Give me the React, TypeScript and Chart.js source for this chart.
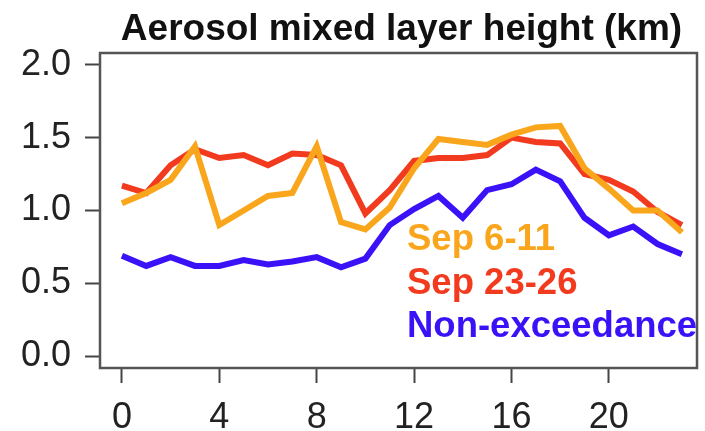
import { useEffect, useRef } from 'react';
import { Chart, registerables } from 'chart.js';
import type { Plugin } from 'chart.js';

Chart.register(...registerables);

// Hora del día (0-23)
const hours = [0, 1, 2, 3, 4, 5, 6, 7, 8, 9, 10, 11, 12, 13, 14, 15, 16, 17, 18, 19, 20, 21, 22, 23];

// Altura de la capa de mezcla (km)
const sep6to11 = [1.05, 1.12, 1.21, 1.44, 0.90, 1.00, 1.10, 1.12, 1.44, 0.92, 0.87, 1.02, 1.29, 1.49, 1.47, 1.45, 1.52, 1.57, 1.58, 1.29, 1.15, 1.00, 1.00, 0.85];
const sep23to26 = [1.17, 1.12, 1.31, 1.42, 1.36, 1.38, 1.31, 1.39, 1.38, 1.31, 0.98, 1.14, 1.34, 1.36, 1.36, 1.38, 1.50, 1.47, 1.46, 1.25, 1.21, 1.13, 0.99, 0.90];
const nonExceedance = [0.69, 0.62, 0.68, 0.62, 0.62, 0.66, 0.63, 0.65, 0.68, 0.61, 0.67, 0.90, 1.01, 1.10, 0.95, 1.14, 1.18, 1.28, 1.20, 0.95, 0.83, 0.89, 0.77, 0.70];

const seriesLabels = ['Sep 6-11', 'Sep 23-26', 'Non-exceedance'];
const seriesColors = ['#F9A61C', '#F23A1E', '#3B12F7'];

const xTicks = [0, 4, 8, 12, 16, 20];
const yTicks = [0, 0.5, 1.0, 1.5, 2.0];

const titleText = 'Aerosol mixed layer height (km)';

const FONT = '"Liberation Sans", Arial, Helvetica, sans-serif';

// Caja alrededor del área del gráfico, título y leyenda de texto (estilo R)
const boxAndTextPlugin: Plugin<'line'> = {
  id: 'boxAndText',
  afterDraw(chart) {
    const { ctx, chartArea } = chart;
    ctx.save();
    ctx.strokeStyle = '#555';
    ctx.lineWidth = 2.5;
    ctx.strokeRect(chartArea.left, chartArea.top, chartArea.right - chartArea.left, chartArea.bottom - chartArea.top);

    // Título
    ctx.fillStyle = '#111';
    ctx.font = `bold 37px ${FONT}`;
    ctx.textAlign = 'center';
    ctx.textBaseline = 'alphabetic';
    ctx.fillText(titleText, (chartArea.left + chartArea.right) / 2 + 3, 40);

    // Leyenda
    ctx.font = `bold 36.5px ${FONT}`;
    ctx.textAlign = 'left';
    seriesLabels.forEach((label, i) => {
      ctx.fillStyle = seriesColors[i];
      ctx.fillText(label, chartArea.left + 307, 250 + i * 43.5);
    });
    ctx.restore();
  }
};

export default function App() {
  const chartRef = useRef<HTMLCanvasElement>(null);
  const chartInstance = useRef<Chart | null>(null);

  useEffect(() => {
    document.body.style.margin = '0';
    if (!chartRef.current) return;
    const ctx = chartRef.current.getContext('2d');
    if (!ctx) return;

    if (chartInstance.current) {
      chartInstance.current.destroy();
    }

    const allSeries = [sep6to11, sep23to26, nonExceedance];

    chartInstance.current = new Chart(ctx, {
      type: 'line',
      data: {
        datasets: allSeries.map((values, i) => ({
          label: seriesLabels[i],
          data: hours.map((h, j) => ({ x: h, y: values[j] })),
          borderColor: seriesColors[i],
          backgroundColor: seriesColors[i],
          borderWidth: 6,
          pointRadius: 0,
          tension: 0,
          fill: false
        }))
      },
      options: {
        animation: false,
        responsive: false,
        maintainAspectRatio: false,
        layout: {
          padding: { top: 53, right: 8, left: 0, bottom: 0 }
        },
        plugins: {
          legend: { display: false },
          title: { display: false },
          tooltip: { enabled: false }
        },
        scales: {
          x: {
            type: 'linear',
            min: -0.9,
            max: 23.62,
            afterBuildTicks: (scale) => {
              scale.ticks = xTicks.map(v => ({ value: v }));
            },
            afterFit: (scale) => {
              scale.height = 63;
            },
            grid: {
              drawOnChartArea: false,
              drawTicks: true,
              tickLength: 15,
              tickWidth: 2,
              tickColor: '#444'
            },
            border: { display: false },
            ticks: {
              padding: 13,
              color: '#222',
              font: { family: FONT, size: 36 },
              maxRotation: 0,
              autoSkip: false,
              callback: (v) => String(v)
            }
          },
          y: {
            type: 'linear',
            min: -0.08,
            max: 2.08,
            afterBuildTicks: (scale) => {
              scale.ticks = yTicks.map(v => ({ value: v }));
            },
            afterFit: (scale) => {
              scale.width = 100;
            },
            grid: {
              drawOnChartArea: false,
              drawTicks: true,
              tickLength: 15,
              tickWidth: 2,
              tickColor: '#444'
            },
            border: { display: false },
            ticks: {
              padding: 14,
              color: '#222',
              font: { family: FONT, size: 36 },
              autoSkip: false,
              callback: (v) => Number(v).toFixed(1)
            }
          }
        }
      },
      plugins: [boxAndTextPlugin]
    });

    return () => {
      if (chartInstance.current) {
        chartInstance.current.destroy();
        chartInstance.current = null;
      }
    };
  }, []);

  return (
    <div style={{ width: 705, height: 431, background: '#fff' }}>
      <canvas ref={chartRef} width={705} height={431} style={{ width: 705, height: 431 }}></canvas>
    </div>
  );
}
